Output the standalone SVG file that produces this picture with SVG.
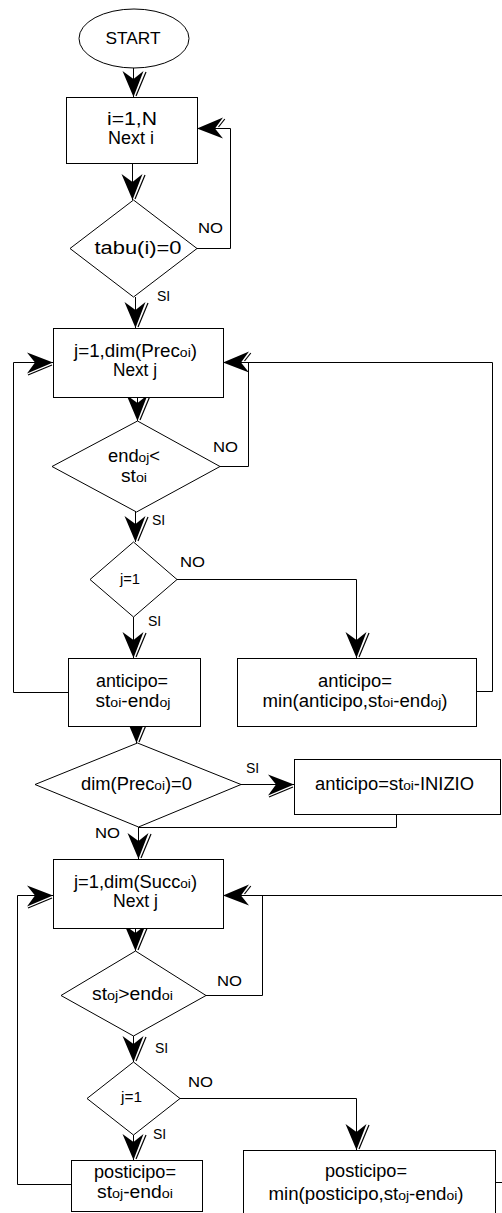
<svg xmlns="http://www.w3.org/2000/svg" xmlns:xlink="http://www.w3.org/1999/xlink" width="502" height="1213" viewBox="0 0 502 1213">
  <style>
    .shape { fill: #fff; stroke: #000; stroke-width: 1; }
    .ln { fill: none; stroke: #000; stroke-width: 1; }
    text { font-family: "Liberation Sans", Arial, sans-serif; fill: #000; text-anchor: middle; }
    .t { font-size: 17.5px; }
    .s { font-size: 13px; }
    .q { font-size: 15px; }
    .lbl { font-size: 15.5px; text-anchor: start; }
    .si { font-size: 14px; text-anchor: start; }
  </style>
  <defs>
    <!-- notched arrowheads with a thin shadow stroke, tip at origin -->
    <g id="ah-down">
      <path d="M0,0 L-11,-26 L0,-18 L10,-26 Z" fill="#000"/>
      <path d="M2.5,-1 L12.5,-25" stroke="#000" stroke-width="1.2" fill="none"/>
    </g>
    <g id="ah-right">
      <path d="M0,0 L-26,-10 L-18,0 L-26,11 Z" fill="#000"/>
      <path d="M-1,2.5 L-25,12.5" stroke="#000" stroke-width="1.2" fill="none"/>
    </g>
    <g id="ah-left">
      <path d="M0,0 L26,-11 L18,0 L26,10 Z" fill="#000"/>
      <path d="M27.8,-9.5 L21.5,-1.5" stroke="#000" stroke-width="1.2" fill="none"/>
    </g>
  </defs>

  <!-- connectors -->
  <g id="connectors">
    <path class="ln" d="M133.5,68 V97"/>
    <path class="ln" d="M132.5,163 V200"/>
    <path class="ln" d="M197,248.5 H230.5 V128.5 H197"/>
    <path class="ln" d="M135.5,297 V328"/>
    <path class="ln" d="M137.5,397 V421"/>
    <path class="ln" d="M220,466.5 H248.5 V362.5"/>
    <path class="ln" d="M476,691.5 H492.5 V362.5 H223"/>
    <path class="ln" d="M68,692.5 H13.5 V362.5 H53"/>
    <path class="ln" d="M135.5,512 V542"/>
    <path class="ln" d="M177,579.5 H356.5 V658"/>
    <path class="ln" d="M133.5,617 V658"/>
    <path class="ln" d="M136.5,726 V743"/>
    <path class="ln" d="M241,784.5 H294"/>
    <path class="ln" d="M396.5,814 V827.5 H138"/>
    <path class="ln" d="M138.5,827 V859"/>
    <path class="ln" d="M135.5,928 V951"/>
    <path class="ln" d="M206,995.5 H262.5 V895.5"/>
    <path class="ln" d="M502,895.5 H223"/>
    <path class="ln" d="M71,1184.5 H17.5 V895.5 H53"/>
    <path class="ln" d="M133.5,1036 V1062"/>
    <path class="ln" d="M180,1098.5 H356.5 V1150"/>
    <path class="ln" d="M133.5,1135 V1160"/>
    <path class="ln" d="M495,1182.5 H502"/>

    <use xlink:href="#ah-down" x="133.5" y="97"/>
    <use xlink:href="#ah-down" x="132.5" y="200"/>
    <use xlink:href="#ah-left" x="197" y="128.5"/>
    <use xlink:href="#ah-down" x="135.5" y="328"/>
    <use xlink:href="#ah-down" x="137.5" y="421"/>
    <use xlink:href="#ah-left" x="223" y="362.5"/>
    <use xlink:href="#ah-right" x="53" y="362.5"/>
    <use xlink:href="#ah-down" x="135.5" y="542"/>
    <use xlink:href="#ah-down" x="356.5" y="658"/>
    <use xlink:href="#ah-down" x="133.5" y="658"/>
    <use xlink:href="#ah-down" x="136.5" y="743"/>
    <use xlink:href="#ah-right" x="294" y="784.5"/>
    <use xlink:href="#ah-down" x="138.5" y="859"/>
    <use xlink:href="#ah-down" x="135.5" y="951"/>
    <use xlink:href="#ah-left" x="223" y="895.5"/>
    <use xlink:href="#ah-right" x="53" y="895.5"/>
    <use xlink:href="#ah-down" x="133.5" y="1062"/>
    <use xlink:href="#ah-down" x="356.5" y="1150"/>
    <use xlink:href="#ah-down" x="133.5" y="1160"/>

    <!-- branch labels -->
    <text class="lbl" x="198" y="233" textLength="25" lengthAdjust="spacingAndGlyphs">NO</text>
    <text class="si" x="157" y="301">SI</text>
    <text class="lbl" x="213" y="452" textLength="25" lengthAdjust="spacingAndGlyphs">NO</text>
    <text class="si" x="152" y="525">SI</text>
    <text class="lbl" x="180" y="567" textLength="25" lengthAdjust="spacingAndGlyphs">NO</text>
    <text class="si" x="148" y="626">SI</text>
    <text class="si" x="246" y="773">SI</text>
    <text class="lbl" x="95" y="838" textLength="25" lengthAdjust="spacingAndGlyphs">NO</text>
    <text class="lbl" x="217" y="986" textLength="25" lengthAdjust="spacingAndGlyphs">NO</text>
    <text class="si" x="155" y="1053">SI</text>
    <text class="lbl" x="188" y="1087" textLength="25" lengthAdjust="spacingAndGlyphs">NO</text>
    <text class="si" x="153" y="1139">SI</text>
  </g>

  <g id="start">
    <ellipse class="shape" cx="134" cy="38.5" rx="55" ry="29.5"/>
    <text x="133" y="44" font-size="17" textLength="55" lengthAdjust="spacingAndGlyphs">START</text>
  </g>

  <g id="loop-i">
    <rect class="shape" x="66.5" y="97.5" width="131" height="66"/>
    <text class="t" x="132" y="125" textLength="50" lengthAdjust="spacingAndGlyphs">i=1,N</text>
    <text class="t" x="131" y="144" textLength="46" lengthAdjust="spacingAndGlyphs">Next i</text>
  </g>

  <g id="check-tabu">
    <polygon class="shape" points="133.5,200 197,248.5 133.5,297 70,248.5"/>
    <text class="t" x="138" y="254" textLength="87" lengthAdjust="spacingAndGlyphs">tabu(i)=0</text>
  </g>

  <g id="loop-prec">
    <rect class="shape" x="53.5" y="328.5" width="170" height="69"/>
    <text class="t" x="135.5" y="357" textLength="123" lengthAdjust="spacingAndGlyphs">j=1,dim(Prec<tspan class="s">oi</tspan>)</text>
    <text class="t" x="135" y="376" textLength="44" lengthAdjust="spacingAndGlyphs">Next j</text>
  </g>

  <g id="check-end">
    <polygon class="shape" points="137.5,421 220,466.5 136.5,512 52,466.5"/>
    <text class="t" x="134" y="462" textLength="52" lengthAdjust="spacingAndGlyphs">end<tspan class="s">oj</tspan>&lt;</text>
    <text class="t" x="134" y="482" textLength="26" lengthAdjust="spacingAndGlyphs">st<tspan class="s">oi</tspan></text>
  </g>

  <g id="check-first-prec">
    <polygon class="shape" points="133.5,542 177,579.5 133.5,617 90,579.5"/>
    <text class="q" x="130" y="584" textLength="20" lengthAdjust="spacingAndGlyphs">j=1</text>
  </g>

  <g id="set-anticipo">
    <rect class="shape" x="68.5" y="658.5" width="132" height="68"/>
    <text class="t" x="132" y="687" textLength="72" lengthAdjust="spacingAndGlyphs">anticipo=</text>
    <text class="t" x="133" y="707" textLength="75" lengthAdjust="spacingAndGlyphs">st<tspan class="s">oi</tspan>-end<tspan class="s">oj</tspan></text>
  </g>

  <g id="min-anticipo">
    <rect class="shape" x="237.5" y="658.5" width="239" height="68"/>
    <text class="t" x="355" y="687" textLength="74" lengthAdjust="spacingAndGlyphs">anticipo=</text>
    <text class="t" x="355" y="707" textLength="185" lengthAdjust="spacingAndGlyphs">min(anticipo,st<tspan class="s">oi</tspan>-end<tspan class="s">oj</tspan>)</text>
  </g>

  <g id="check-no-prec">
    <polygon class="shape" points="137.5,743 241,784.5 138.5,827 35,784.5"/>
    <text class="t" x="136.5" y="790" textLength="111" lengthAdjust="spacingAndGlyphs">dim(Prec<tspan class="s">oi</tspan>)=0</text>
  </g>

  <g id="anticipo-inizio">
    <rect class="shape" x="294.5" y="759.5" width="206" height="55"/>
    <text class="t" x="394.5" y="790" textLength="159" lengthAdjust="spacingAndGlyphs">anticipo=st<tspan class="s">oi</tspan>-INIZIO</text>
  </g>

  <g id="loop-succ">
    <rect class="shape" x="53.5" y="859.5" width="170" height="69"/>
    <text class="t" x="135.5" y="888" textLength="123" lengthAdjust="spacingAndGlyphs">j=1,dim(Succ<tspan class="s">oi</tspan>)</text>
    <text class="t" x="135.5" y="907" textLength="45" lengthAdjust="spacingAndGlyphs">Next j</text>
  </g>

  <g id="check-st">
    <polygon class="shape" points="135.5,951 206,995.5 133.5,1036 61,995.5"/>
    <text class="t" x="132.5" y="1000" textLength="81" lengthAdjust="spacingAndGlyphs">st<tspan class="s">oj</tspan>&gt;end<tspan class="s">oi</tspan></text>
  </g>

  <g id="check-first-succ">
    <polygon class="shape" points="133.5,1062 180,1098.5 133.5,1135 87,1098.5"/>
    <text class="q" x="131.5" y="1102" textLength="21" lengthAdjust="spacingAndGlyphs">j=1</text>
  </g>

  <g id="set-posticipo">
    <rect class="shape" x="71.5" y="1160.5" width="131" height="51"/>
    <text class="t" x="135" y="1178" textLength="82" lengthAdjust="spacingAndGlyphs">posticipo=</text>
    <text class="t" x="135" y="1198" textLength="76" lengthAdjust="spacingAndGlyphs">st<tspan class="s">oj</tspan>-end<tspan class="s">oi</tspan></text>
  </g>

  <g id="min-posticipo">
    <rect class="shape" x="243.5" y="1150.5" width="252" height="70"/>
    <text class="t" x="366" y="1177" textLength="82" lengthAdjust="spacingAndGlyphs">posticipo=</text>
    <text class="t" x="366" y="1200" textLength="195" lengthAdjust="spacingAndGlyphs">min(posticipo,st<tspan class="s">oj</tspan>-end<tspan class="s">oi</tspan>)</text>
  </g>
</svg>
